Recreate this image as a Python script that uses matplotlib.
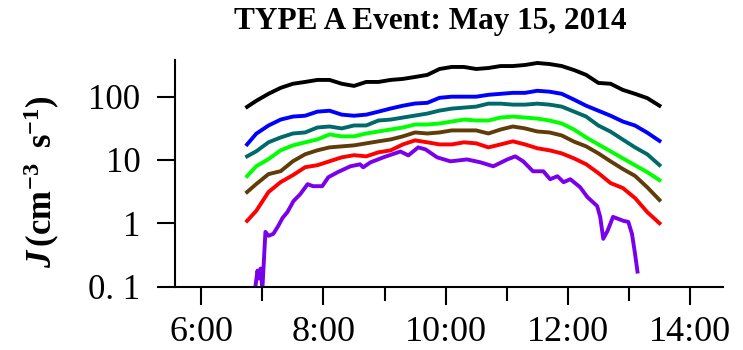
import matplotlib
matplotlib.use("Agg")
import matplotlib.pyplot as plt

# hours (decimal) for the six smooth channels
t = [6.75, 6.9, 7.1, 7.3, 7.5, 7.7, 7.9, 8.1, 8.3, 8.5, 8.7, 8.9, 9.1, 9.3, 9.5, 9.7, 9.9,
     10.1, 10.3, 10.5, 10.7, 10.9, 11.1, 11.3, 11.5, 11.7, 11.9, 12.1, 12.3, 12.5, 12.7,
     12.9, 13.1, 13.3, 13.5]

black = [69, 86, 111, 138, 160, 171, 184, 184, 160, 148, 171, 171, 184, 191, 205, 221, 274,
         295, 295, 274, 284, 305, 305, 317, 341, 328, 305, 264, 221, 165, 160, 128, 111, 95, 72]
blue = [17.6, 26, 35, 43.5, 48.5, 50, 58, 60, 52, 50, 52, 58, 65, 72, 78, 80, 96,
        100, 100, 100, 107, 111, 115, 115, 124, 120, 111, 90, 72, 60, 50, 40.5, 35, 27, 20]
teal = [11.4, 13.7, 19, 22.7, 26.2, 27.2, 32.6, 33.8, 31.5, 35.1, 35.1, 42, 43.5, 46.8, 50.3,
        54.1, 60.3, 64.8, 67.2, 69.7, 77.6, 77.6, 74.9, 74.9, 77.6, 74.9, 69.7, 58.2, 48.5, 35,
        28, 21, 15.8, 12.3, 8.3]
green = [5.55, 7.96, 10.3, 14.2, 17.0, 19.0, 21.1, 25.3, 23.6, 23.6, 26.2, 28.2, 30.3, 32.6,
         36.3, 36.3, 37.7, 40.5, 43.5, 42.0, 42.0, 46.8, 48.5, 46.8, 45.1, 42.0, 37.7, 30.3,
         22.7, 17.6, 13.7, 10.6, 8.26, 6.41, 4.8]
brown = [3.11, 4.16, 5.97, 6.65, 9.54, 12.3, 14.2, 15.8, 16.4, 17.0, 18.3, 19.7, 21.1, 23.6,
         27.2, 26.2, 27.2, 29.3, 29.3, 29.3, 26.2, 30.3, 33.8, 31.5, 28.2, 27.2, 24.4, 19.5,
         16.4, 12.7, 9.5, 7.2, 5.6, 3.7, 2.33]
red = [1.09, 1.57, 3.11, 4.47, 5.75, 7.68, 8.26, 9.54, 11.0, 11.9, 11.4, 13.2, 14.2, 17.6,
       20.4, 19.0, 17.6, 17.6, 19.0, 18.3, 15.8, 17.6, 19.7, 17.6, 15.3, 14.2, 12.7, 10.6,
       8.56, 6.2, 4.31, 3.6, 2.5, 1.5, 1.0]

# purple channel has its own (denser) sampling
t_purple = [6.88, 6.92, 6.94, 6.97, 7.0, 7.05, 7.1, 7.18, 7.26, 7.33, 7.41, 7.51, 7.62, 7.74,
            7.83, 7.98, 8.08, 8.23, 8.44, 8.6, 8.65, 8.77, 8.98, 9.26, 9.39, 9.55, 9.67, 9.86,
            10.08, 10.35, 10.57, 10.78, 11.01, 11.14, 11.27, 11.43, 11.6, 11.71, 11.83, 11.93,
            12.04, 12.2, 12.32, 12.48, 12.53, 12.58, 12.65, 12.74, 12.91, 12.99, 13.05, 13.1,
            13.14]
purple = [0.09, 0.178, 0.134, 0.192, 0.09, 0.73, 0.632, 0.68, 0.907, 1.21, 1.50, 2.24, 2.88,
          4.14, 3.85, 3.85, 5.33, 6.39, 7.94, 8.53, 7.65, 9.17, 11.0, 13.6, 11.8, 15.8, 14.7,
          11.0, 9.51, 10.2, 9.17, 7.94, 10.2, 11.4, 9.51, 6.62, 6.62, 4.96, 5.53, 4.45, 4.96,
          3.72, 2.59, 1.87, 1.26, 0.567, 0.757, 1.26, 1.09, 1.05, 0.68, 0.33, 0.172]

series = [(black, '#000000'), (blue, '#0000ff'), (teal, '#006a6a'), (green, '#00ff00'),
          (brown, '#603c08'), (red, '#ff0000')]

x_major = [6, 8, 10, 12, 14]
x_labels = ['6:00', '8:00', '10:00', '12:00', '14:00']
x_minor = [7, 9, 11, 13]
y_ticks = [0.1, 1, 10, 100]
y_labels = ['0. 1', '1', '10', '100']

plt.rcParams['font.family'] = 'Liberation Serif'
plt.rcParams['mathtext.fontset'] = 'custom'
plt.rcParams['mathtext.rm'] = 'Liberation Serif:bold'
plt.rcParams['mathtext.it'] = 'Liberation Serif:italic:bold'
plt.rcParams['mathtext.bf'] = 'Liberation Serif:bold'

fig = plt.figure(figsize=(7.43, 3.5), dpi=100)
ax = fig.add_axes([175 / 743, 63.5 / 350, 548 / 743, 226.5 / 350])

for vals, col in series:
    ax.plot(t, vals, color=col, lw=2.8, solid_joinstyle='round')
ax.plot(t_purple, purple, color='#7a00ec', lw=2.8, solid_joinstyle='round')

ax.set_yscale('log')
ax.set_ylim(0.1, 380)
ax.set_xlim(5.57, 14.54)

ax.set_yticks(y_ticks)
ax.set_yticklabels(y_labels)
ax.yaxis.set_minor_locator(matplotlib.ticker.NullLocator())
ax.set_xticks(x_major)
ax.set_xticklabels(x_labels)
ax.set_xticks(x_minor, minor=True)

ax.spines['top'].set_visible(False)
ax.spines['right'].set_visible(False)
for s in ['left', 'bottom']:
    ax.spines[s].set_linewidth(1.5)

ax.tick_params(axis='y', which='major', length=13, width=1.5, labelsize=25, pad=12)
ax.tick_params(axis='x', which='major', length=13, width=1.5, labelsize=26, pad=8)
ax.tick_params(axis='x', which='minor', length=10, width=1.5)

fig.text(430 / 743, 1 - 21.5 / 350, 'TYPE A Event: May 15, 2014',
         ha='center', va='center', fontsize=22.5, fontweight='bold')
fig.text(42 / 743, 168 / 350, r'$J\,\mathrm{(cm^{-3}\;\;s^{-1})}$', rotation=90,
         ha='center', va='center', fontsize=25)

fig.savefig('out.png', dpi=100)
